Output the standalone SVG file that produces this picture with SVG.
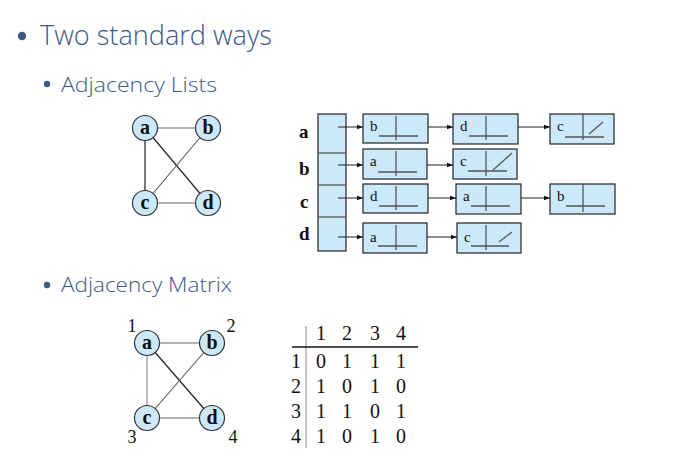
<svg xmlns="http://www.w3.org/2000/svg" width="674" height="464" viewBox="0 0 674 464">
<defs>
<marker id="arr" markerWidth="6" markerHeight="6" refX="6" refY="3" orient="auto" markerUnits="userSpaceOnUse">
<path d="M0,0.8 L6,3 L0,5.2 Z" fill="#111"/>
</marker>
<style>
.h{font-family:"Open Sans","Liberation Sans",Arial,sans-serif;font-weight:300;fill:#3d5a85}
.bul{fill:#3d5a85}
.gn{fill:#cce9fb;stroke:#333;stroke-width:1.2}
.gl{font-family:"Liberation Serif","Times New Roman",serif;font-weight:bold;font-size:20px;fill:#111;text-anchor:middle}
.num{font-family:"Liberation Serif","Times New Roman",serif;font-size:18px;fill:#111;text-anchor:middle}
.rl{font-family:"Liberation Serif","Times New Roman",serif;font-weight:bold;font-size:19px;fill:#111}
.ln{fill:#cce9fb;stroke:#222;stroke-width:1.2}
.lt{font-family:"Liberation Serif","Times New Roman",serif;font-size:15px;fill:#111}
.in{stroke:#555;stroke-width:1.3;fill:none}
.ar{stroke:#222;stroke-width:1;fill:none;marker-end:url(#arr)}
.e1{stroke:#999;stroke-width:1.3}
.e2{stroke:#222;stroke-width:1.2}
.e3{stroke:#555;stroke-width:1.1}
.mt{font-family:"Liberation Serif","Times New Roman",serif;font-size:20px;fill:#111;text-anchor:middle}
</style>
</defs>
<rect width="674" height="464" fill="#fff"/>

<!-- headings -->
<g id="heading">
<circle class="bul" cx="22" cy="36" r="4.2"/>
<text class="h" x="40" y="45" font-size="27" textLength="232" lengthAdjust="spacingAndGlyphs">Two standard ways</text>
<circle class="bul" cx="47" cy="84" r="3.2"/>
<text class="h" x="61" y="92" font-size="20" textLength="156" lengthAdjust="spacingAndGlyphs">Adjacency Lists</text>
<circle class="bul" cx="47" cy="285" r="3.2"/>
<text class="h" x="61" y="292" font-size="20" textLength="171" lengthAdjust="spacingAndGlyphs">Adjacency Matrix</text>
</g>

<!-- graph 1 -->
<g id="graph1-edges">
<line class="e1" x1="145" y1="128" x2="208" y2="128"/>
<line class="e2" x1="145" y1="128" x2="145" y2="203"/>
<line class="e2" x1="145" y1="128" x2="208" y2="203"/>
<line class="e3" x1="208" y1="128" x2="145" y2="203"/>
<line class="e1" x1="145" y1="203" x2="208" y2="203"/>
</g>
<g id="g1-a"><circle class="gn" cx="145" cy="128" r="12.5"/><text class="gl" x="145" y="134">a</text></g>
<g id="g1-b"><circle class="gn" cx="208" cy="128" r="12.5"/><text class="gl" x="208" y="134">b</text></g>
<g id="g1-c"><circle class="gn" cx="145" cy="203" r="12.5"/><text class="gl" x="145" y="209">c</text></g>
<g id="g1-d"><circle class="gn" cx="208" cy="203" r="12.5"/><text class="gl" x="208" y="209">d</text></g>

<!-- adjacency lists -->
<g id="array">
<rect class="ln" x="318" y="114" width="28" height="137"/>
<line class="in" x1="319" y1="153" x2="345" y2="153" stroke="#777"/>
<line class="in" x1="319" y1="185" x2="345" y2="185" stroke="#777"/>
<line class="in" x1="319" y1="217" x2="345" y2="217" stroke="#777"/>
<text class="rl" x="299" y="138">a</text>
<text class="rl" x="299" y="175">b</text>
<text class="rl" x="300" y="208">c</text>
<text class="rl" x="299" y="240">d</text>
</g>

<g id="connectors">
<line class="ar" x1="338" y1="127" x2="363" y2="127"/>
<line class="ar" x1="415" y1="127" x2="453" y2="127"/>
<line class="ar" x1="505" y1="127" x2="550" y2="127"/>
<line class="ar" x1="338" y1="165" x2="363" y2="165"/>
<line class="ar" x1="415" y1="165" x2="453" y2="165"/>
<line class="ar" x1="338" y1="198" x2="363" y2="198"/>
<line class="ar" x1="415" y1="198" x2="456" y2="198"/>
<line class="ar" x1="508" y1="198" x2="550" y2="198"/>
<line class="ar" x1="338" y1="237" x2="363" y2="237"/>
<line class="ar" x1="415" y1="237" x2="457" y2="237"/>
</g>

<g id="ra1" transform="translate(363,114)">
<rect class="ln" width="65" height="29"/><text class="lt" x="7" y="17">b</text>
<line class="in" x1="33" y1="2" x2="33" y2="26"/><line class="in" x1="16" y1="22" x2="55" y2="22"/>
</g>
<g id="ra2" transform="translate(453,114)">
<rect class="ln" width="65" height="30"/><text class="lt" x="7" y="17">d</text>
<line class="in" x1="33" y1="2" x2="33" y2="26"/><line class="in" x1="16" y1="22" x2="55" y2="22"/>
</g>
<g id="ra3" transform="translate(550,114)">
<rect class="ln" width="64" height="30"/><text class="lt" x="7" y="17">c</text>
<line class="in" x1="33" y1="0" x2="33" y2="26"/><line class="in" x1="15" y1="23" x2="54" y2="23"/>
<line class="in" x1="39" y1="20" x2="53" y2="8"/>
</g>

<g id="rb1" transform="translate(363,149)">
<rect class="ln" width="64" height="30"/><text class="lt" x="7" y="17">a</text>
<line class="in" x1="33" y1="2" x2="33" y2="27"/><line class="in" x1="15" y1="23" x2="54" y2="23" stroke="#222"/>
</g>
<g id="rb2" transform="translate(453,149)">
<rect class="ln" width="64" height="30"/><text class="lt" x="7" y="17">c</text>
<line class="in" x1="33" y1="2" x2="33" y2="27"/><line class="in" x1="15" y1="22" x2="54" y2="22" stroke="#222"/>
<line class="in" x1="40" y1="21" x2="59" y2="4"/>
</g>

<g id="rc1" transform="translate(363,184)">
<rect class="ln" width="65" height="29"/><text class="lt" x="7" y="17">d</text>
<line class="in" x1="33" y1="2" x2="33" y2="26"/><line class="in" x1="16" y1="22" x2="55" y2="22"/>
</g>
<g id="rc2" transform="translate(456,184)">
<rect class="ln" width="65" height="30"/><text class="lt" x="7" y="17">a</text>
<line class="in" x1="30" y1="2" x2="30" y2="27"/><line class="in" x1="15" y1="22" x2="54" y2="22"/>
</g>
<g id="rc3" transform="translate(550,184)">
<rect class="ln" width="65" height="30"/><text class="lt" x="7" y="17">b</text>
<line class="in" x1="33" y1="0" x2="33" y2="28"/><line class="in" x1="16" y1="22" x2="55" y2="22"/>
</g>

<g id="rd1" transform="translate(363,223)">
<rect class="ln" width="64" height="30"/><text class="lt" x="7" y="19">a</text>
<line class="in" x1="33" y1="2" x2="33" y2="27"/><line class="in" x1="15" y1="23" x2="54" y2="23"/>
</g>
<g id="rd2" transform="translate(457,223)">
<rect class="ln" width="64" height="30"/><text class="lt" x="7" y="19">c</text>
<line class="in" x1="29" y1="2" x2="29" y2="27"/><line class="in" x1="14" y1="23" x2="52" y2="23" stroke="#222"/>
<line class="in" x1="42" y1="19" x2="55" y2="9" stroke="#222"/>
</g>

<!-- graph 2 -->
<g id="graph2-edges">
<line class="e1" x1="147" y1="343" x2="212" y2="343"/>
<line class="e1" x1="147" y1="343" x2="147" y2="418" stroke="#888"/>
<line class="e2" x1="147" y1="343" x2="212" y2="418" stroke-width="1"/>
<line class="e3" x1="212" y1="343" x2="147" y2="418"/>
<line class="e1" x1="147" y1="418" x2="212" y2="418"/>
</g>
<g id="g2-a"><circle class="gn" cx="147" cy="343" r="12.5"/><text class="gl" x="147" y="349">a</text><text class="num" x="132" y="332">1</text></g>
<g id="g2-b"><circle class="gn" cx="212" cy="343" r="12.5"/><text class="gl" x="212" y="349">b</text><text class="num" x="231" y="332">2</text></g>
<g id="g2-c"><circle class="gn" cx="147" cy="418" r="12.5"/><text class="gl" x="147" y="424">c</text><text class="num" x="132" y="443">3</text></g>
<g id="g2-d"><circle class="gn" cx="212" cy="418" r="12.5"/><text class="gl" x="212" y="424">d</text><text class="num" x="233" y="443">4</text></g>

<!-- matrix -->
<g id="matrix">
<line x1="306" y1="326" x2="306" y2="448" stroke="#999" stroke-width="1.2"/>
<line x1="292" y1="347" x2="418" y2="347" stroke="#111" stroke-width="1.3"/>
<text class="mt" x="321" y="340">1</text><text class="mt" x="347" y="340">2</text><text class="mt" x="375" y="340">3</text><text class="mt" x="401" y="340">4</text>
<text class="mt" x="296" y="368">1</text><text class="mt" x="321" y="368">0</text><text class="mt" x="347" y="368">1</text><text class="mt" x="375" y="368">1</text><text class="mt" x="401" y="368">1</text>
<text class="mt" x="296" y="393">2</text><text class="mt" x="321" y="393">1</text><text class="mt" x="347" y="393">0</text><text class="mt" x="375" y="393">1</text><text class="mt" x="401" y="393">0</text>
<text class="mt" x="296" y="418">3</text><text class="mt" x="321" y="418">1</text><text class="mt" x="347" y="418">1</text><text class="mt" x="375" y="418">0</text><text class="mt" x="401" y="418">1</text>
<text class="mt" x="296" y="443">4</text><text class="mt" x="321" y="443">1</text><text class="mt" x="347" y="443">0</text><text class="mt" x="375" y="443">1</text><text class="mt" x="401" y="443">0</text>
</g>
</svg>
